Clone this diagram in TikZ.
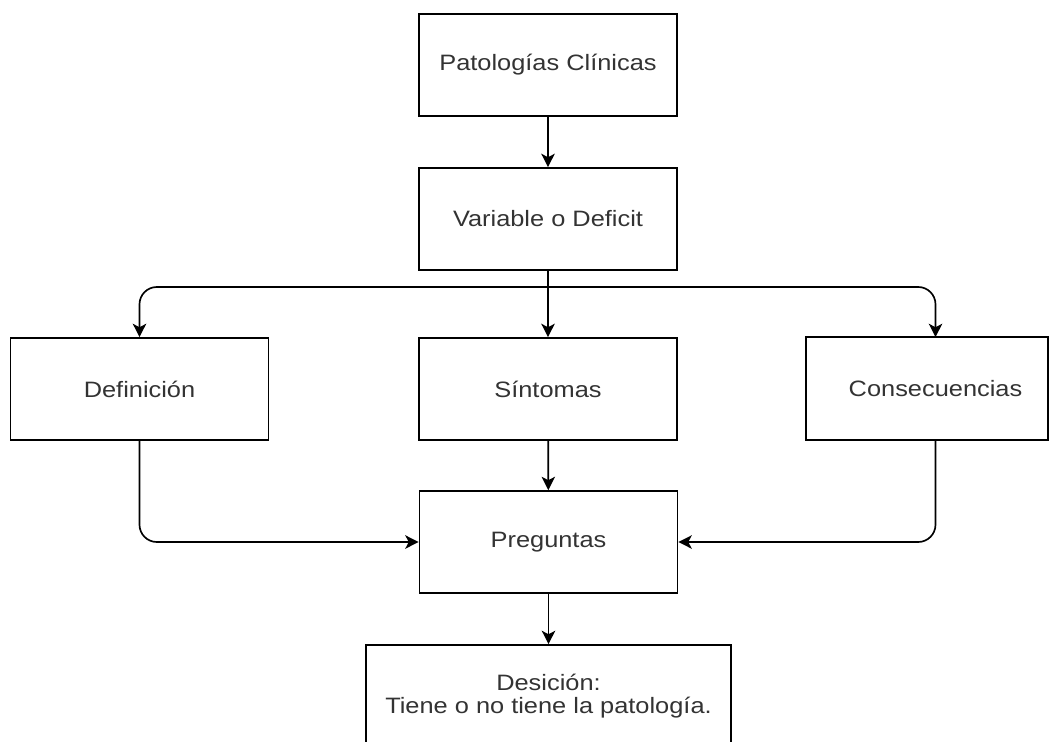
\documentclass[tikz,border=0pt]{standalone}
\usepackage{fontspec}
\setmainfont{Liberation Sans}[FakeStretch=1.14]
\usetikzlibrary{arrows.meta}

\begin{document}
\begin{tikzpicture}[x=0.75pt, y=-0.75pt,
  box/.style={draw=black, line width=1.25pt, minimum width=258*0.75pt,
              minimum height=102*0.75pt, inner sep=0pt, text=black!80,
              font=\fontsize{16.7}{17.5}\selectfont, align=center},
  plain/.style={box, draw=none},
  link/.style={line width=1.25pt, draw=black,
               -{Stealth[length=10pt, width=10pt, inset=2.5pt]}},
  elbow/.style={link, rounded corners=13pt}]

  % page frame
  \useasboundingbox (0,0) rectangle (1049,742);
  \clip (0,0) rectangle (1049,742);

  % boxes
  \node[box] (pat) at (548,65)  {Patologías Clínicas};
  \node[box] (var) at (548,219) {Variable o Deficit};
  \node[box] (def) at (139.5,389) {Definición};
  \node[box] (sin) at (548,389) {Síntomas};
  \node[plain] (con) at (935.5,389) {Consecuencias};
  \draw[line width=1.25pt] (con.north west) rectangle (1048,440);
  \node[box] (pre) at (548.5,542) {Preguntas};
  \node[box, minimum width=365*0.75pt] (des) at (548.5,696)
        {Desición:\\Tiene o no tiene la patología.};

  % connectors
  \coordinate (split) at (548,287);
  \draw[link] (pat) -- (var);
  \draw[link] (var) -- (sin);
  \draw[elbow] (split) -| (def.north);
  \draw[elbow] (split) -| (con.north);
  \draw[link] (sin) -- (pre);
  \draw[elbow] (def.south) |- (pre.west);
  \draw[elbow] (con.south) |- (pre.east);
  \draw[link] (pre) -- (des);
\end{tikzpicture}
\end{document}
